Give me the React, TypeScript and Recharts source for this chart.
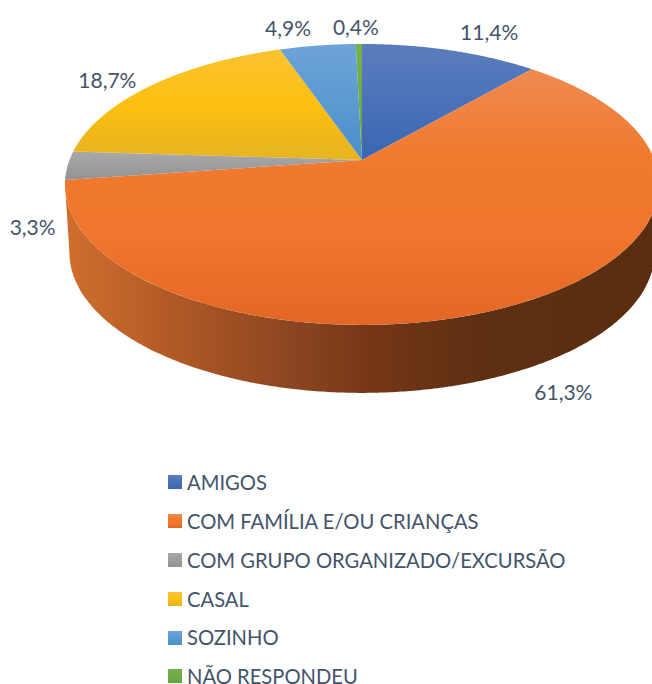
import React from "react";
import { PieChart, Pie, Cell, Legend } from "recharts";

const categories = ["AMIGOS", "COM FAMÍLIA E/OU CRIANÇAS", "COM GRUPO ORGANIZADO/EXCURSÃO", "CASAL", "SOZINHO", "NÃO RESPONDEU"];
const shares = [11.4, 61.3, 3.3, 18.7, 4.9, 0.4];
const chartData = categories.map((name, i) => ({ name, value: shares[i] }));

const topStops = [
  ["#5b7dbd", "#3a66b4"],
  ["#ee8a50", "#f17a2f", "#ef762c", "#e26726"],
  ["#a9a9a9", "#929292"],
  ["#fbc233", "#fcc010", "#e6b322"],
  ["#6ea4d8", "#4a8fcb"],
  ["#76b04c", "#66a63f"],
];
const wallStops: [string, string][] = [
  ["0%", "#cf6f2d"],
  ["17%", "#b35b27"],
  ["38%", "#8c4520"],
  ["52%", "#753616"],
  ["68%", "#5f3012"],
  ["100%", "#5a2d11"],
];
const labelOffsets = [
  [39, -19],
  [36, 90],
  [-35, 61],
  [-44, -6],
  [-29.5, -18.5],
  [-3, -17],
];

const TEXT = "#44546a";
const FONT = "Lato, 'Open Sans', sans-serif";
const CX = 362, CY = 160, A = 292.5, B = 136.2, K = 0.174;
const DEPTH = 68, LOWER_SCALE = 0.985;
const WALL_FROM = 100, WALL_TO = 260;

const rad = (d: number) => (d * Math.PI) / 180;
const project = (theta: number, drop = 0, scale = 1) => {
  const u = Math.sin(rad(theta));
  const v = Math.cos(rad(theta));
  const w = 1 + K * v;
  return [CX + (A * scale * u) / w, CY + drop - (B * v) / w];
};
const arcPoints = (from: number, to: number, drop = 0, scale = 1) => {
  const pts: number[][] = [];
  const n = Math.max(2, Math.ceil(Math.abs(to - from) * 2));
  for (let i = 0; i <= n; i++) pts.push(project(from + ((to - from) * i) / n, drop, scale));
  return pts;
};
const toPath = (pts: number[][]) => "M" + pts.map((p) => `${p[0].toFixed(2)},${p[1].toFixed(2)}`).join("L") + "Z";

const TopShape = (props: any) => {
  const from = 90 - props.startAngle;
  const to = 90 - props.endAngle;
  const pts = [[CX, CY], ...arcPoints(from, to)];
  return <path d={toPath(pts)} fill={props.fill} stroke="none" />;
};

const WallShape = (props: any) => {
  const from = Math.max(90 - props.startAngle, WALL_FROM);
  const to = Math.min(90 - props.endAngle, WALL_TO);
  if (to <= from) return <g />;
  const pts = [...arcPoints(from, to), ...arcPoints(to, from, DEPTH, LOWER_SCALE)];
  return <path d={toPath(pts)} fill="url(#wallGrad)" stroke="none" />;
};

const renderLabel = (props: any) => {
  const [x, y] = project(90 - props.midAngle);
  const off = labelOffsets[props.index];
  return (
    <text x={x + off[0]} y={y + off[1]} textAnchor="middle" dominantBaseline="central" fill={TEXT} fontSize={21} fontFamily={FONT}>
      {props.value.toFixed(1).replace(".", ",")}%
    </text>
  );
};

const renderLegend = () => (
  <div style={{ fontFamily: FONT, fontSize: 20.2, lineHeight: 1, color: TEXT }}>
    {categories.map((name, i) => (
      <div key={name} style={{ display: "flex", alignItems: "center", height: 38.9, whiteSpace: "nowrap" }}>
        <svg width={14} height={14} style={{ marginRight: 5, flex: "none" }}>
          <rect width={14} height={14} fill={`url(#top${i})`} />
        </svg>
        {name}
      </div>
    ))}
  </div>
);

export default function App() {
  return (
    <div style={{ position: "absolute", left: 0, top: 0, width: 652, height: 684, overflow: "hidden", background: "#fff" }}>
      <PieChart width={652} height={684} margin={{ top: 0, right: 0, bottom: 0, left: 0 }}>
        <defs>
          {topStops.map((stops, i) => (
            <linearGradient key={i} id={`top${i}`} x1="0" y1="0" x2="0" y2="1">
              {stops.map((c, j) => (
                <stop key={j} offset={j / (stops.length - 1)} stopColor={c} />
              ))}
            </linearGradient>
          ))}
          <linearGradient id="wallGrad" gradientUnits="userSpaceOnUse" x1={65} y1={0} x2={659} y2={0}>
            {wallStops.map(([o, c]) => (
              <stop key={o} offset={o} stopColor={c} />
            ))}
          </linearGradient>
        </defs>
        <Pie
          data={chartData}
          dataKey="value"
          nameKey="name"
          cx={CX}
          cy={CY}
          outerRadius={140}
          startAngle={90}
          endAngle={-270}
          paddingAngle={0}
          stroke="none"
          isAnimationActive={false}
          legendType="none"
          shape={WallShape}
          activeShape={WallShape}
          inactiveShape={WallShape}
        />
        <Pie
          data={chartData}
          dataKey="value"
          nameKey="name"
          cx={CX}
          cy={CY}
          outerRadius={140}
          startAngle={90}
          endAngle={-270}
          paddingAngle={0}
          stroke="none"
          isAnimationActive={false}
          legendType="square"
          shape={TopShape}
          activeShape={TopShape}
          inactiveShape={TopShape}
          label={renderLabel}
          labelLine={false}
        >
          {chartData.map((d, i) => (
            <Cell key={d.name} fill={`url(#top${i})`} />
          ))}
        </Pie>
        <Legend
          content={renderLegend}
          layout="vertical"
          wrapperStyle={{ position: "absolute", left: 168, top: 462.5, width: 460, bottom: "auto" }}
        />
      </PieChart>
    </div>
  );
}
